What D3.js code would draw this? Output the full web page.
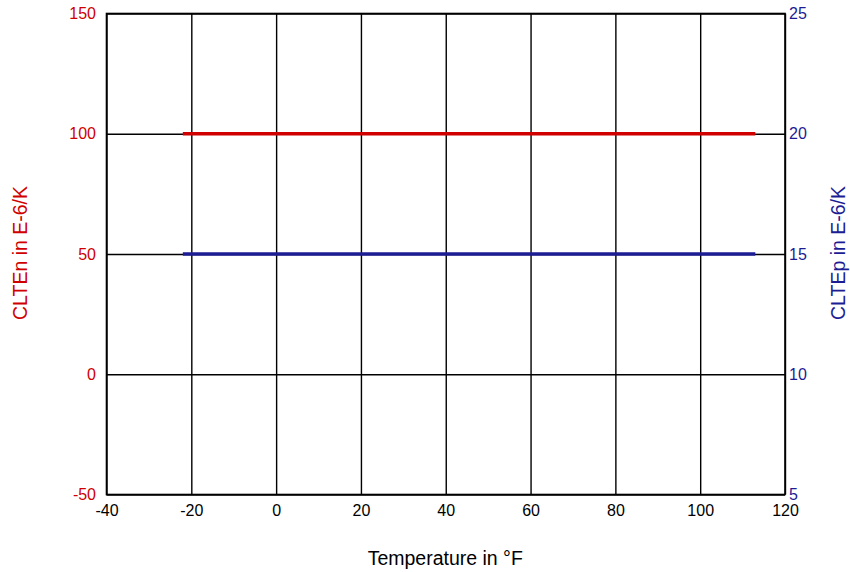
<!DOCTYPE html>
<html>
<head>
<meta charset="utf-8">
<script src="https://cdn.jsdelivr.net/npm/d3@7"></script>
<style>
  body { margin: 0; background: #fff; }
  svg { display: block; font-family: "Liberation Sans", Arial, sans-serif; }
</style>
</head>
<body>
<div id="chart"></div>
<script>
// Data
const temperatures = [-22, 113];          // °F, start and end of both curves
const cltenValues = [100, 100];           // left axis, E-6/K
const cltepValues = [15, 15];             // right axis, E-6/K
const xTicks = [-40, -20, 0, 20, 40, 60, 80, 100, 120];
const leftTicks = [-50, 0, 50, 100, 150];
const rightTicks = [5, 10, 15, 20, 25];

const width = 850, height = 572;
const margin = { top: 13.5, right: 65, bottom: 77.5, left: 106.5 };
const red = "#d00000", blue = "#1c1c94";
const plain = d => String(d); // hyphen minus, like the original

const svg = d3.select("#chart").append("svg").attr("width", width).attr("height", height);

// Scales
const x = d3.scaleLinear().domain([-40, 120]).range([margin.left, width - margin.right]);
const yLeft = d3.scaleLinear().domain([-50, 150]).range([height - margin.bottom, margin.top]);
const yRight = d3.scaleLinear().domain([5, 25]).range([height - margin.bottom, margin.top]);

const plotW = width - margin.right - margin.left;
const plotH = height - margin.bottom - margin.top;

// Bottom axis with vertical grid lines
const xAxis = svg.append("g")
    .attr("transform", `translate(0, ${height - margin.bottom})`)
    .call(d3.axisBottom(x).tickValues(xTicks).tickFormat(plain).tickSizeInner(-plotH).tickSizeOuter(0).tickPadding(10));
xAxis.select(".domain").remove();
xAxis.selectAll("line").attr("stroke", "#000").attr("stroke-width", 1.4);
xAxis.selectAll("text").attr("font-size", 16).attr("fill", "#000").attr("font-family", "Liberation Sans, Arial, sans-serif");

// Left axis with horizontal grid lines
const leftAxis = svg.append("g")
    .attr("transform", `translate(${margin.left}, 0)`)
    .call(d3.axisLeft(yLeft).tickValues(leftTicks).tickFormat(plain).tickSizeInner(-plotW).tickSizeOuter(0).tickPadding(10.5));
leftAxis.select(".domain").remove();
leftAxis.selectAll("line").attr("stroke", "#000").attr("stroke-width", 1.4);
leftAxis.selectAll("text").attr("font-size", 16).attr("fill", red).attr("font-family", "Liberation Sans, Arial, sans-serif");

// Right axis, labels only
const rightAxis = svg.append("g")
    .attr("transform", `translate(${width - margin.right}, 0)`)
    .call(d3.axisRight(yRight).tickValues(rightTicks).tickFormat(plain).tickSize(0).tickPadding(4));
rightAxis.select(".domain").remove();
rightAxis.selectAll("text").attr("font-size", 16).attr("fill", blue).attr("font-family", "Liberation Sans, Arial, sans-serif");

// Frame
svg.append("rect")
    .attr("x", margin.left).attr("y", margin.top)
    .attr("width", plotW).attr("height", plotH)
    .attr("fill", "none").attr("stroke", "#000").attr("stroke-width", 1.6);

// Curves
const cltenLine = d3.line().x((d, i) => x(temperatures[i])).y(d => yLeft(d));
const cltepLine = d3.line().x((d, i) => x(temperatures[i])).y(d => yRight(d));

svg.append("path").datum(cltenValues)
    .attr("fill", "none").attr("stroke", red).attr("stroke-width", 3.5)
    .attr("d", cltenLine);

svg.append("path").datum(cltepValues)
    .attr("fill", "none").attr("stroke", blue).attr("stroke-width", 3.5)
    .attr("d", cltepLine);

// Axis titles
svg.append("text")
    .attr("x", margin.left + plotW / 2 - 0.5).attr("y", 565)
    .attr("text-anchor", "middle").attr("font-size", 19.5).attr("fill", "#000")
    .text("Temperature in °F");

svg.append("text")
    .attr("transform", `translate(27, 253) rotate(-90)`)
    .attr("text-anchor", "middle").attr("font-size", 19.5).attr("fill", red)
    .text("CLTEn in E-6/K");

svg.append("text")
    .attr("transform", `translate(845, 253) rotate(-90)`)
    .attr("text-anchor", "middle").attr("font-size", 19.5).attr("fill", blue)
    .text("CLTEp in E-6/K");
</script>
</body>
</html>
